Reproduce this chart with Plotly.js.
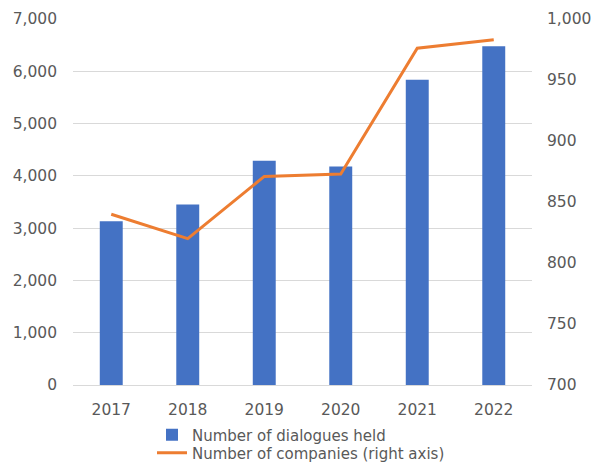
<!DOCTYPE html>
<html>
<head>
<meta charset="utf-8">
<script src="https://cdn.plot.ly/plotly-3.0.1.min.js"></script>
<style>html,body{margin:0;padding:0;background:#fff;}#chart{width:592px;height:464px;}</style>
</head>
<body>
<div id="chart"></div>
<script>
const years = ['2017', '2018', '2019', '2020', '2021', '2022'];
const dialogues = [3130, 3450, 4290, 4180, 5840, 6480];
const companies = [840, 820, 871, 873, 976, 983];
const barName = 'Number of dialogues held';
const lineName = 'Number of companies (right axis)';

const family = 'DejaVu Sans, Verdana, sans-serif';
const font = {family: family, size: 15.5, color: '#595959'};
const legFont = {family: family, size: 15, color: '#595959'};

const data = [
  {type: 'bar', x: years, y: dialogues, name: barName, marker: {color: '#4472C4'}, width: 0.3, yaxis: 'y', legend: 'legend'},
  {type: 'scatter', mode: 'lines', x: years, y: companies, name: lineName, line: {color: '#ED7D31', width: 3}, yaxis: 'y2', legend: 'legend2'}
];

const layout = {
  width: 592, height: 464,
  margin: {l: 73, r: 60, t: 19, b: 79, autoexpand: false},
  paper_bgcolor: '#fff', plot_bgcolor: '#fff',
  font: font,
  showlegend: true,
  legend: {orientation: 'v', xref: 'container', yref: 'container', x: 152/592, xanchor: 'left', y: 1 - 435/464, yanchor: 'middle',
           font: legFont, itemwidth: 30, bgcolor: 'rgba(0,0,0,0)'},
  legend2: {orientation: 'v', xref: 'container', yref: 'container', x: 152/592, xanchor: 'left', y: 1 - 453/464, yanchor: 'middle',
           font: legFont, itemwidth: 30, bgcolor: 'rgba(0,0,0,0)'},
  xaxis: {type: 'category', showgrid: false, showline: false, ticks: '', tickfont: font, ticklabelstandoff: 13},
  yaxis: {range: [0, 7000], dtick: 1000, tickformat: ',', showgrid: true, gridcolor: '#D9D9D9', gridwidth: 1,
          zeroline: true, zerolinecolor: '#D9D9D9', zerolinewidth: 1, showline: false, ticks: '', tickfont: font, ticklabelstandoff: 15},
  yaxis2: {range: [700, 1000], dtick: 50, tickformat: ',', overlaying: 'y', side: 'right', showgrid: false, zeroline: false,
           showline: false, ticks: '', tickfont: font, ticklabelstandoff: 14}
};

Plotly.newPlot('chart', data, layout, {displayModeBar: false, staticPlot: true});
</script>
</body>
</html>
